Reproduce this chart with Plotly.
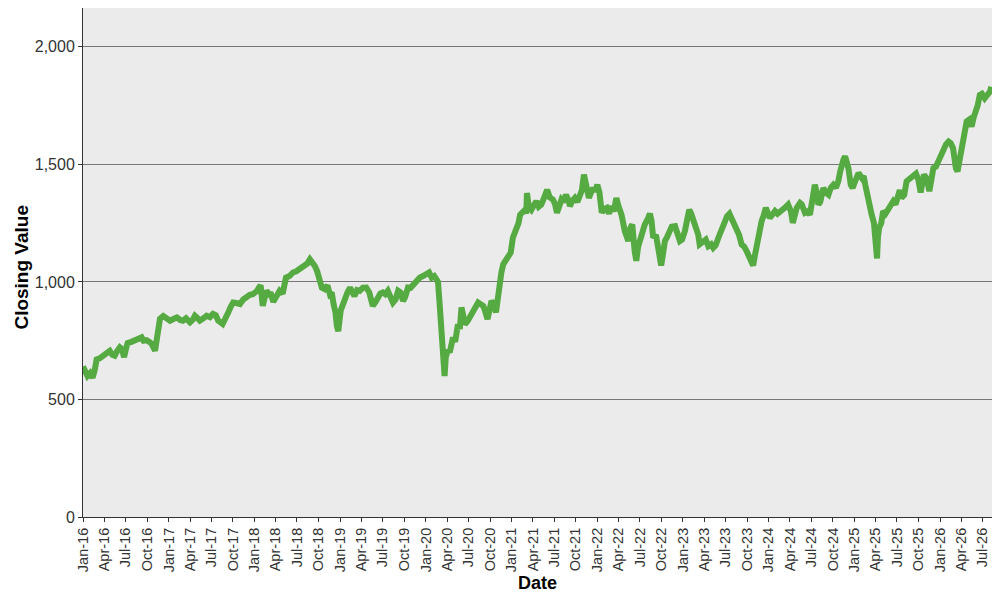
import plotly.graph_objects as go

# closing values, roughly every 1-2 weeks
dates = [
    "2016-01-01", "2016-01-12", "2016-01-20", "2016-01-31", "2016-02-11", "2016-02-20", "2016-02-28",
    "2016-03-12", "2016-03-25", "2016-04-10", "2016-04-24", "2016-05-05", "2016-05-15", "2016-05-25",
    "2016-06-06", "2016-06-15", "2016-06-24", "2016-07-01", "2016-07-09", "2016-07-25", "2016-08-09",
    "2016-08-22", "2016-09-07", "2016-09-15", "2016-09-28", "2016-10-10", "2016-10-19", "2016-11-03",
    "2016-11-09", "2016-11-12", "2016-11-24", "2016-12-08", "2016-12-15", "2016-12-28",
    "2017-01-06", "2017-01-20", "2017-02-04", "2017-02-18", "2017-03-02", "2017-03-15", "2017-04-01",
    "2017-04-12", "2017-04-22", "2017-05-01", "2017-05-13", "2017-05-28", "2017-06-11", "2017-06-25",
    "2017-07-08", "2017-07-20", "2017-07-30", "2017-08-18", "2017-08-30", "2017-09-11", "2017-09-22",
    "2017-10-02", "2017-10-15", "2017-10-31", "2017-11-14", "2017-11-29", "2017-12-12", "2017-12-25",
    "2018-01-10", "2018-01-20", "2018-01-27", "2018-02-05", "2018-02-12", "2018-02-21", "2018-03-05",
    "2018-03-10", "2018-03-22", "2018-04-02", "2018-04-18", "2018-05-01", "2018-05-15", "2018-05-30",
    "2018-06-14", "2018-06-28", "2018-07-12", "2018-07-25", "2018-08-03", "2018-08-14", "2018-08-25",
    "2018-09-05", "2018-09-15", "2018-09-25", "2018-10-06", "2018-10-15", "2018-10-27", "2018-11-08",
    "2018-11-18", "2018-11-26", "2018-12-04", "2018-12-12", "2018-12-18", "2018-12-24",
    "2019-01-03", "2019-01-12", "2019-01-21", "2019-02-01", "2019-02-12", "2019-02-22", "2019-03-03",
    "2019-03-14", "2019-03-25", "2019-04-08", "2019-04-22", "2019-05-05", "2019-05-20", "2019-06-01",
    "2019-06-11", "2019-06-21", "2019-07-02", "2019-07-12", "2019-07-23", "2019-08-05", "2019-08-14",
    "2019-08-25", "2019-09-05", "2019-09-15", "2019-09-26", "2019-10-05", "2019-10-17", "2019-10-28",
    "2019-11-08", "2019-11-20", "2019-12-06", "2019-12-20",
    "2020-01-04", "2020-01-15", "2020-01-26", "2020-02-06", "2020-02-16", "2020-02-22", "2020-03-01",
    "2020-03-07", "2020-03-12", "2020-03-17", "2020-03-21", "2020-03-26", "2020-04-05", "2020-04-12",
    "2020-04-26", "2020-05-05", "2020-05-17", "2020-05-25", "2020-06-01", "2020-06-08", "2020-06-15",
    "2020-06-28", "2020-07-13", "2020-07-25", "2020-08-11", "2020-08-22", "2020-09-02", "2020-09-10",
    "2020-09-20", "2020-10-07", "2020-10-16", "2020-10-26", "2020-11-09", "2020-11-18", "2020-11-26",
    "2020-12-08", "2020-12-17", "2020-12-28",
    "2021-01-06", "2021-01-15", "2021-01-23", "2021-01-30", "2021-02-06", "2021-02-15", "2021-02-27",
    "2021-03-04", "2021-03-07", "2021-03-15", "2021-03-26", "2021-04-05", "2021-04-16", "2021-04-26",
    "2021-05-07", "2021-05-18", "2021-06-01", "2021-06-12", "2021-06-26", "2021-07-05", "2021-07-13",
    "2021-07-22", "2021-08-01", "2021-08-10", "2021-08-20", "2021-09-01", "2021-09-06", "2021-09-16",
    "2021-09-27", "2021-10-08", "2021-10-18", "2021-10-27", "2021-11-05", "2021-11-15", "2021-11-26",
    "2021-12-05", "2021-12-14", "2021-12-22",
    "2022-01-01", "2022-01-10", "2022-01-20", "2022-01-30", "2022-02-10", "2022-02-20", "2022-03-02",
    "2022-03-12", "2022-03-23", "2022-04-02", "2022-04-14", "2022-04-28", "2022-05-05", "2022-05-13",
    "2022-05-22", "2022-05-30", "2022-06-09", "2022-06-16", "2022-06-24", "2022-07-01", "2022-07-12",
    "2022-07-22", "2022-08-05", "2022-08-13", "2022-08-20", "2022-08-27", "2022-09-08", "2022-09-18",
    "2022-09-25", "2022-09-30", "2022-10-08", "2022-10-16", "2022-10-25", "2022-11-06", "2022-11-14",
    "2022-11-28", "2022-12-06", "2022-12-19", "2022-12-28",
    "2023-01-09", "2023-01-20", "2023-01-28", "2023-02-05", "2023-02-18", "2023-03-07", "2023-03-13",
    "2023-03-28", "2023-04-08", "2023-04-19", "2023-05-01", "2023-05-10", "2023-05-20", "2023-06-01",
    "2023-06-12", "2023-06-22", "2023-07-08", "2023-07-18", "2023-07-27", "2023-08-08", "2023-08-17",
    "2023-08-28", "2023-09-08", "2023-09-19", "2023-09-29", "2023-10-08", "2023-10-20", "2023-10-27",
    "2023-11-03", "2023-11-11", "2023-11-22", "2023-12-02", "2023-12-12", "2023-12-20",
    "2024-01-06", "2024-01-17", "2024-01-28", "2024-02-08", "2024-02-18", "2024-02-28", "2024-03-10",
    "2024-03-24", "2024-04-05", "2024-04-13", "2024-04-22", "2024-04-30", "2024-05-14", "2024-05-21",
    "2024-06-04", "2024-06-15", "2024-06-25", "2024-07-09", "2024-07-16", "2024-07-24", "2024-07-31",
    "2024-08-08", "2024-08-21", "2024-09-01", "2024-09-12", "2024-09-22", "2024-10-03", "2024-10-14",
    "2024-10-24", "2024-11-01", "2024-11-08", "2024-11-15", "2024-11-22", "2024-12-01", "2024-12-06",
    "2024-12-16", "2024-12-24",
    "2025-01-04", "2025-01-11", "2025-01-18", "2025-02-02", "2025-02-09", "2025-02-16", "2025-03-01",
    "2025-03-08", "2025-03-15", "2025-03-25", "2025-04-02", "2025-04-07", "2025-04-11", "2025-04-16",
    "2025-04-25", "2025-05-03", "2025-05-13", "2025-05-24", "2025-06-05", "2025-06-15", "2025-06-25",
    "2025-07-06", "2025-07-13", "2025-07-20", "2025-08-01", "2025-08-11", "2025-08-25", "2025-09-09",
    "2025-09-20", "2025-09-30", "2025-10-10", "2025-10-17", "2025-10-24", "2025-11-05", "2025-11-16",
    "2025-11-24", "2025-12-03", "2025-12-14", "2025-12-24",
    "2026-01-05", "2026-01-15", "2026-01-26", "2026-02-06", "2026-02-15", "2026-02-25", "2026-03-03",
    "2026-03-09", "2026-03-16", "2026-03-23", "2026-03-31", "2026-04-07", "2026-04-15", "2026-04-24",
    "2026-05-05", "2026-05-15", "2026-05-24", "2026-06-02", "2026-06-10", "2026-06-19", "2026-06-28",
    "2026-07-10", "2026-07-20", "2026-08-01", "2026-08-07",
]

closes = [
    640, 620, 600, 612, 592, 625, 670,
    675, 686, 695, 707, 690, 686, 705,
    722, 715, 680, 710, 740, 745, 752,
    758, 764, 750, 752, 745, 737, 707,
    750, 792, 843, 855, 849, 838,
    835, 842, 849, 838, 835, 845, 828,
    838, 856, 848, 835, 845, 856, 850,
    864, 858, 835, 821, 840, 870, 895,
    912, 910, 906, 925, 940, 945, 948,
    960, 976, 985, 898, 920, 962, 948,
    955, 915, 930, 962, 950, 1018, 1025,
    1040, 1045, 1054, 1060, 1068, 1078, 1096,
    1085, 1068, 1045, 997, 975, 969, 985,
    948, 955, 905, 870, 813, 790,
    877, 905, 933, 955, 976, 960, 940,
    965, 962, 975, 976, 955, 898, 915,
    940, 950, 955, 948, 962, 925, 912,
    925, 962, 955, 919, 935, 976, 975,
    990, 1000, 1018, 1025,
    1032, 1040, 1018, 1025, 1010, 1000, 891,
    800, 707, 651, 600, 680, 710, 700,
    764, 745, 820, 800, 891, 860, 820,
    835, 862, 880, 912, 905, 898, 875,
    842, 919, 905, 870, 990, 1040, 1075,
    1095, 1110, 1125,
    1188, 1210, 1223, 1250, 1286, 1300, 1307,
    1290, 1378, 1320, 1307, 1325, 1343, 1320,
    1329, 1355, 1392, 1360, 1350, 1330, 1294,
    1320, 1350, 1340, 1371, 1345, 1322, 1345,
    1357, 1340, 1371, 1390, 1456, 1420, 1357,
    1380, 1399, 1385,
    1413, 1380, 1294, 1310, 1315, 1290, 1322,
    1300, 1357, 1320, 1286, 1216, 1201, 1174,
    1230, 1244, 1131, 1090, 1150, 1174, 1190,
    1244, 1270, 1290, 1260, 1188, 1200, 1131,
    1096, 1070, 1120, 1174, 1190, 1230, 1235,
    1237, 1210, 1174, 1180,
    1216, 1270, 1307, 1290, 1258, 1201, 1160,
    1174, 1180, 1152, 1160, 1145, 1155, 1188,
    1215, 1244, 1280, 1290, 1272, 1240, 1216,
    1200, 1159, 1150, 1131, 1110, 1096, 1070,
    1110, 1159, 1210, 1258, 1285, 1315,
    1272, 1285, 1301, 1290, 1301, 1310, 1315,
    1329, 1300, 1251, 1285, 1315, 1336, 1330,
    1294, 1300, 1286, 1360, 1413, 1380, 1329,
    1340, 1399, 1380, 1371, 1400, 1413, 1400,
    1428, 1470, 1506, 1520, 1534, 1505, 1484,
    1413, 1400,
    1428, 1445, 1463, 1441, 1450, 1413, 1343,
    1310, 1286, 1250, 1174, 1100, 1190, 1230,
    1250, 1301, 1290, 1307, 1320, 1343, 1330,
    1378, 1390, 1357, 1370, 1428, 1440, 1449,
    1460, 1435, 1380, 1420, 1456, 1440, 1386,
    1430, 1484, 1490, 1513,
    1540, 1569, 1585, 1597, 1590, 1569, 1520,
    1484, 1470, 1513, 1570, 1611, 1650, 1682,
    1690, 1661, 1700, 1725, 1750, 1795, 1800,
    1781, 1790, 1809, 1830,
]

fig = go.Figure()
fig.add_trace(go.Scatter(
    x=dates, y=closes, mode="lines",
    line=dict(color="#55aa42", width=6),
    showlegend=False,
))

# the page body adds an 8px margin, so the figure is a little smaller than the window
fig.update_layout(
    width=992, height=592,
    margin=dict(l=75, r=8, t=0, b=83),
    paper_bgcolor="white",
    plot_bgcolor="#ebebeb",
    font=dict(family="Liberation Sans, Arial, sans-serif", size=14, color="#333333"),
)
fig.update_xaxes(
    title=dict(text="<b>Date</b>", font=dict(size=18, color="black"), standoff=5),
    type="date",
    range=["2016-01-01", "2026-08-10"],
    tick0="2016-01-01", dtick="M3", tickformat="%b-%y",
    tickangle=-90, ticks="outside", ticklen=4, tickcolor="#333333",
    tickfont=dict(size=14.5),
    showgrid=False, showline=True, linecolor="#333333", linewidth=1, mirror=True,
    zeroline=False, automargin=False,
)
fig.update_yaxes(
    range=[0, 2165], tickvals=[0, 500, 1000, 1500, 2000],
    tickformat=",d", ticks="outside", ticklen=4, tickcolor="#333333",
    tickfont=dict(size=16),
    showgrid=True, gridcolor="#777777", gridwidth=1,
    showline=True, linecolor="#333333", linewidth=1, mirror=True,
    zeroline=False, automargin=False,
)

# y title as an annotation so it sits where the original one does
fig.add_annotation(
    text="<b>Closing Value</b>", textangle=-90,
    xref="paper", yref="paper", x=0, y=0.49, xanchor="center", yanchor="middle",
    xshift=-61, showarrow=False,
    font=dict(size=19, color="black"),
)

fig.write_html("out.html")
